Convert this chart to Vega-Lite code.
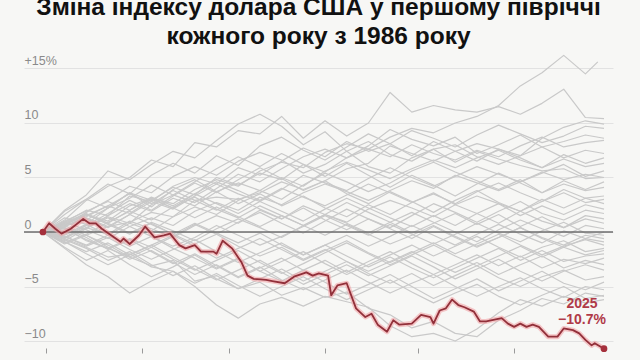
{
"$schema": "https://vega.github.io/schema/vega-lite/v6.json",
"width": 589, "height": 302,
"autosize": {"type": "none"},
"padding": {"left": 24, "top": 52, "right": 27, "bottom": 6},
"background": "#f7f7f5",
"config": {"view": {"stroke": null}},
"title": {"text": ["Зміна індексу долара США у першому півріччі", "кожного року з 1986 року"], "font": "Liberation Sans", "fontSize": 24.5, "fontWeight": "bold", "color": "#111111", "anchor": "middle", "lineHeight": 29, "offset": 3},
"datasets": {
"hist": [
{"yr":1986,"d":0,"v":0},{"yr":1986,"d":7,"v":-0.6},{"yr":1986,"d":14,"v":-1.4},{"yr":1986,"d":21,"v":-2.3},{"yr":1986,"d":28,"v":-2.0},{"yr":1986,"d":35,"v":-3.2},{"yr":1986,"d":42,"v":-3.6},{"yr":1986,"d":49,"v":-5.0},{"yr":1986,"d":56,"v":-6.7},{"yr":1986,"d":63,"v":-7.9},{"yr":1986,"d":70,"v":-6.6},{"yr":1986,"d":77,"v":-6.0},{"yr":1986,"d":84,"v":-6.8},{"yr":1986,"d":91,"v":-5.9},{"yr":1986,"d":98,"v":-6.4},{"yr":1986,"d":105,"v":-6.9},{"yr":1986,"d":112,"v":-8.6},{"yr":1986,"d":119,"v":-9.6},{"yr":1986,"d":126,"v":-9.3},{"yr":1986,"d":133,"v":-10.0},{"yr":1986,"d":140,"v":-8.9},{"yr":1986,"d":147,"v":-7.4},{"yr":1986,"d":154,"v":-6.2},{"yr":1986,"d":161,"v":-6.8},{"yr":1986,"d":168,"v":-5.9},{"yr":1986,"d":175,"v":-6.5},{"yr":1986,"d":181,"v":-6.2},
{"yr":1987,"d":0,"v":0},{"yr":1987,"d":7,"v":0.4},{"yr":1987,"d":14,"v":-0.8},{"yr":1987,"d":21,"v":-1.5},{"yr":1987,"d":28,"v":-2.3},{"yr":1987,"d":35,"v":-3.1},{"yr":1987,"d":42,"v":-2.6},{"yr":1987,"d":49,"v":-4.5},{"yr":1987,"d":56,"v":-4.0},{"yr":1987,"d":63,"v":-5.2},{"yr":1987,"d":70,"v":-4.6},{"yr":1987,"d":77,"v":-5.8},{"yr":1987,"d":84,"v":-5.1},{"yr":1987,"d":91,"v":-6.0},{"yr":1987,"d":98,"v":-5.5},{"yr":1987,"d":105,"v":-7.0},{"yr":1987,"d":112,"v":-7.6},{"yr":1987,"d":119,"v":-8.8},{"yr":1987,"d":126,"v":-8.2},{"yr":1987,"d":133,"v":-9.3},{"yr":1987,"d":140,"v":-9.6},{"yr":1987,"d":147,"v":-8.1},{"yr":1987,"d":154,"v":-7.2},{"yr":1987,"d":161,"v":-6.1},{"yr":1987,"d":168,"v":-6.6},{"yr":1987,"d":175,"v":-5.6},{"yr":1987,"d":181,"v":-5.9},
{"yr":1988,"d":0,"v":0},{"yr":1988,"d":7,"v":-0.5},{"yr":1988,"d":14,"v":0.6},{"yr":1988,"d":21,"v":1.4},{"yr":1988,"d":28,"v":0.8},{"yr":1988,"d":35,"v":2.5},{"yr":1988,"d":42,"v":3.4},{"yr":1988,"d":49,"v":2.7},{"yr":1988,"d":56,"v":4.0},{"yr":1988,"d":63,"v":5.3},{"yr":1988,"d":70,"v":4.6},{"yr":1988,"d":77,"v":5.8},{"yr":1988,"d":84,"v":6.9},{"yr":1988,"d":91,"v":7.6},{"yr":1988,"d":98,"v":6.8},{"yr":1988,"d":105,"v":7.9},{"yr":1988,"d":112,"v":9.4},{"yr":1988,"d":119,"v":8.5},{"yr":1988,"d":126,"v":7.9},{"yr":1988,"d":133,"v":8.7},{"yr":1988,"d":140,"v":7.2},{"yr":1988,"d":147,"v":8.0},{"yr":1988,"d":154,"v":8.9},{"yr":1988,"d":161,"v":7.8},{"yr":1988,"d":168,"v":8.3},{"yr":1988,"d":175,"v":8.9},{"yr":1988,"d":181,"v":8.6},
{"yr":1989,"d":0,"v":0},{"yr":1989,"d":7,"v":0.8},{"yr":1989,"d":14,"v":1.6},{"yr":1989,"d":21,"v":1.0},{"yr":1989,"d":28,"v":2.4},{"yr":1989,"d":35,"v":3.1},{"yr":1989,"d":42,"v":2.6},{"yr":1989,"d":49,"v":3.9},{"yr":1989,"d":56,"v":4.8},{"yr":1989,"d":63,"v":4.2},{"yr":1989,"d":70,"v":5.6},{"yr":1989,"d":77,"v":6.4},{"yr":1989,"d":84,"v":5.9},{"yr":1989,"d":91,"v":7.3},{"yr":1989,"d":98,"v":8.1},{"yr":1989,"d":105,"v":7.6},{"yr":1989,"d":112,"v":8.7},{"yr":1989,"d":119,"v":9.5},{"yr":1989,"d":126,"v":9.1},{"yr":1989,"d":133,"v":10.0},{"yr":1989,"d":140,"v":10.6},{"yr":1989,"d":147,"v":11.6},{"yr":1989,"d":154,"v":13.4},{"yr":1989,"d":161,"v":14.6},{"yr":1989,"d":168,"v":16.2},{"yr":1989,"d":175,"v":14.5},{"yr":1989,"d":179,"v":15.6},
{"yr":1990,"d":0,"v":0},{"yr":1990,"d":7,"v":0.8},{"yr":1990,"d":14,"v":1.6},{"yr":1990,"d":21,"v":0.7},{"yr":1990,"d":28,"v":-0.2},{"yr":1990,"d":35,"v":0.9},{"yr":1990,"d":42,"v":0.1},{"yr":1990,"d":49,"v":-0.8},{"yr":1990,"d":56,"v":0.3},{"yr":1990,"d":63,"v":1.2},{"yr":1990,"d":70,"v":0.4},{"yr":1990,"d":77,"v":-0.5},{"yr":1990,"d":84,"v":0.6},{"yr":1990,"d":91,"v":1.6},{"yr":1990,"d":98,"v":0.8},{"yr":1990,"d":105,"v":-0.1},{"yr":1990,"d":112,"v":0.9},{"yr":1990,"d":119,"v":1.8},{"yr":1990,"d":126,"v":0.9},{"yr":1990,"d":133,"v":0.0},{"yr":1990,"d":140,"v":-0.9},{"yr":1990,"d":147,"v":0.2},{"yr":1990,"d":154,"v":1.1},{"yr":1990,"d":161,"v":0.3},{"yr":1990,"d":168,"v":-0.4},{"yr":1990,"d":175,"v":0.6},{"yr":1990,"d":181,"v":0.3},
{"yr":1991,"d":0,"v":0},{"yr":1991,"d":7,"v":1.1},{"yr":1991,"d":14,"v":2.9},{"yr":1991,"d":21,"v":4.2},{"yr":1991,"d":28,"v":5.0},{"yr":1991,"d":35,"v":6.6},{"yr":1991,"d":42,"v":6.0},{"yr":1991,"d":49,"v":8.2},{"yr":1991,"d":56,"v":7.8},{"yr":1991,"d":63,"v":9.3},{"yr":1991,"d":70,"v":9.0},{"yr":1991,"d":77,"v":10.6},{"yr":1991,"d":84,"v":8.6},{"yr":1991,"d":91,"v":10.2},{"yr":1991,"d":98,"v":8.8},{"yr":1991,"d":105,"v":10.0},{"yr":1991,"d":112,"v":12.8},{"yr":1991,"d":119,"v":11.0},{"yr":1991,"d":126,"v":11.6},{"yr":1991,"d":133,"v":11.2},{"yr":1991,"d":140,"v":11.0},{"yr":1991,"d":147,"v":11.5},{"yr":1991,"d":154,"v":10.8},{"yr":1991,"d":161,"v":11.8},{"yr":1991,"d":168,"v":13.1},{"yr":1991,"d":175,"v":10.5},{"yr":1991,"d":181,"v":10.4},
{"yr":1992,"d":0,"v":0},{"yr":1992,"d":7,"v":0.4},{"yr":1992,"d":14,"v":-0.5},{"yr":1992,"d":21,"v":-1.6},{"yr":1992,"d":28,"v":-0.7},{"yr":1992,"d":35,"v":-1.8},{"yr":1992,"d":42,"v":-2.9},{"yr":1992,"d":49,"v":-2.0},{"yr":1992,"d":56,"v":-3.1},{"yr":1992,"d":63,"v":-4.2},{"yr":1992,"d":70,"v":-3.3},{"yr":1992,"d":77,"v":-2.4},{"yr":1992,"d":84,"v":-3.5},{"yr":1992,"d":91,"v":-4.6},{"yr":1992,"d":98,"v":-5.7},{"yr":1992,"d":105,"v":-4.8},{"yr":1992,"d":112,"v":-3.9},{"yr":1992,"d":119,"v":-5.0},{"yr":1992,"d":126,"v":-6.1},{"yr":1992,"d":133,"v":-5.2},{"yr":1992,"d":140,"v":-4.3},{"yr":1992,"d":147,"v":-5.4},{"yr":1992,"d":154,"v":-4.5},{"yr":1992,"d":161,"v":-3.6},{"yr":1992,"d":168,"v":-4.7},{"yr":1992,"d":175,"v":-5.3},{"yr":1992,"d":181,"v":-4.6},
{"yr":1993,"d":0,"v":0},{"yr":1993,"d":7,"v":0.5},{"yr":1993,"d":14,"v":1.2},{"yr":1993,"d":21,"v":0.4},{"yr":1993,"d":28,"v":1.6},{"yr":1993,"d":35,"v":2.8},{"yr":1993,"d":42,"v":2.1},{"yr":1993,"d":49,"v":3.3},{"yr":1993,"d":56,"v":4.4},{"yr":1993,"d":63,"v":3.5},{"yr":1993,"d":70,"v":2.8},{"yr":1993,"d":77,"v":3.9},{"yr":1993,"d":84,"v":5.2},{"yr":1993,"d":91,"v":4.5},{"yr":1993,"d":98,"v":3.8},{"yr":1993,"d":105,"v":4.9},{"yr":1993,"d":112,"v":5.9},{"yr":1993,"d":119,"v":5.0},{"yr":1993,"d":126,"v":4.2},{"yr":1993,"d":133,"v":5.1},{"yr":1993,"d":140,"v":6.0},{"yr":1993,"d":147,"v":5.3},{"yr":1993,"d":154,"v":4.6},{"yr":1993,"d":161,"v":5.4},{"yr":1993,"d":168,"v":6.2},{"yr":1993,"d":175,"v":5.1},{"yr":1993,"d":181,"v":5.6},
{"yr":1994,"d":0,"v":0},{"yr":1994,"d":7,"v":-1.1},{"yr":1994,"d":14,"v":-0.3},{"yr":1994,"d":21,"v":-1.4},{"yr":1994,"d":28,"v":-2.5},{"yr":1994,"d":35,"v":-1.7},{"yr":1994,"d":42,"v":-2.8},{"yr":1994,"d":49,"v":-3.9},{"yr":1994,"d":56,"v":-3.0},{"yr":1994,"d":63,"v":-4.1},{"yr":1994,"d":70,"v":-3.2},{"yr":1994,"d":77,"v":-4.4},{"yr":1994,"d":84,"v":-5.3},{"yr":1994,"d":91,"v":-4.4},{"yr":1994,"d":98,"v":-3.5},{"yr":1994,"d":105,"v":-4.6},{"yr":1994,"d":112,"v":-5.6},{"yr":1994,"d":119,"v":-4.7},{"yr":1994,"d":126,"v":-3.9},{"yr":1994,"d":133,"v":-5.0},{"yr":1994,"d":140,"v":-5.9},{"yr":1994,"d":147,"v":-5.0},{"yr":1994,"d":154,"v":-4.2},{"yr":1994,"d":161,"v":-5.2},{"yr":1994,"d":168,"v":-6.0},{"yr":1994,"d":175,"v":-5.0},{"yr":1994,"d":181,"v":-5.3},
{"yr":1995,"d":0,"v":0},{"yr":1995,"d":7,"v":-1.5},{"yr":1995,"d":14,"v":-3.0},{"yr":1995,"d":21,"v":-4.1},{"yr":1995,"d":28,"v":-5.6},{"yr":1995,"d":35,"v":-4.5},{"yr":1995,"d":42,"v":-3.6},{"yr":1995,"d":49,"v":-4.7},{"yr":1995,"d":56,"v":-3.8},{"yr":1995,"d":63,"v":-4.9},{"yr":1995,"d":70,"v":-5.9},{"yr":1995,"d":77,"v":-5.0},{"yr":1995,"d":84,"v":-4.1},{"yr":1995,"d":91,"v":-5.2},{"yr":1995,"d":98,"v":-6.2},{"yr":1995,"d":105,"v":-5.3},{"yr":1995,"d":112,"v":-4.4},{"yr":1995,"d":119,"v":-5.5},{"yr":1995,"d":126,"v":-6.5},{"yr":1995,"d":133,"v":-5.6},{"yr":1995,"d":140,"v":-4.8},{"yr":1995,"d":147,"v":-5.9},{"yr":1995,"d":154,"v":-6.7},{"yr":1995,"d":161,"v":-5.8},{"yr":1995,"d":168,"v":-5.0},{"yr":1995,"d":175,"v":-6.1},{"yr":1995,"d":181,"v":-5.8},
{"yr":1996,"d":0,"v":0},{"yr":1996,"d":7,"v":-0.4},{"yr":1996,"d":14,"v":-1.2},{"yr":1996,"d":21,"v":-0.3},{"yr":1996,"d":28,"v":0.8},{"yr":1996,"d":35,"v":0.1},{"yr":1996,"d":42,"v":1.4},{"yr":1996,"d":49,"v":2.3},{"yr":1996,"d":56,"v":1.6},{"yr":1996,"d":63,"v":2.9},{"yr":1996,"d":70,"v":3.8},{"yr":1996,"d":77,"v":3.0},{"yr":1996,"d":84,"v":4.3},{"yr":1996,"d":91,"v":5.4},{"yr":1996,"d":98,"v":4.6},{"yr":1996,"d":105,"v":3.7},{"yr":1996,"d":112,"v":4.5},{"yr":1996,"d":119,"v":5.6},{"yr":1996,"d":126,"v":6.4},{"yr":1996,"d":133,"v":5.5},{"yr":1996,"d":140,"v":4.7},{"yr":1996,"d":147,"v":3.9},{"yr":1996,"d":154,"v":4.8},{"yr":1996,"d":161,"v":3.6},{"yr":1996,"d":168,"v":4.4},{"yr":1996,"d":175,"v":3.8},{"yr":1996,"d":181,"v":4.1},
{"yr":1997,"d":0,"v":0},{"yr":1997,"d":7,"v":0.9},{"yr":1997,"d":14,"v":2.0},{"yr":1997,"d":21,"v":1.5},{"yr":1997,"d":28,"v":3.3},{"yr":1997,"d":35,"v":2.8},{"yr":1997,"d":42,"v":4.2},{"yr":1997,"d":49,"v":5.0},{"yr":1997,"d":56,"v":4.4},{"yr":1997,"d":63,"v":5.9},{"yr":1997,"d":70,"v":5.2},{"yr":1997,"d":77,"v":6.5},{"yr":1997,"d":84,"v":7.7},{"yr":1997,"d":91,"v":6.9},{"yr":1997,"d":98,"v":8.3},{"yr":1997,"d":105,"v":7.4},{"yr":1997,"d":112,"v":8.1},{"yr":1997,"d":119,"v":9.3},{"yr":1997,"d":126,"v":8.6},{"yr":1997,"d":133,"v":7.8},{"yr":1997,"d":140,"v":8.9},{"yr":1997,"d":147,"v":9.8},{"yr":1997,"d":154,"v":9.0},{"yr":1997,"d":161,"v":8.2},{"yr":1997,"d":168,"v":8.8},{"yr":1997,"d":175,"v":9.7},{"yr":1997,"d":181,"v":9.5},
{"yr":1998,"d":0,"v":0},{"yr":1998,"d":7,"v":0.7},{"yr":1998,"d":14,"v":1.5},{"yr":1998,"d":21,"v":2.4},{"yr":1998,"d":28,"v":1.7},{"yr":1998,"d":35,"v":3.0},{"yr":1998,"d":42,"v":2.2},{"yr":1998,"d":49,"v":3.5},{"yr":1998,"d":56,"v":4.6},{"yr":1998,"d":63,"v":3.8},{"yr":1998,"d":70,"v":2.9},{"yr":1998,"d":77,"v":4.0},{"yr":1998,"d":84,"v":3.2},{"yr":1998,"d":91,"v":2.4},{"yr":1998,"d":98,"v":3.4},{"yr":1998,"d":105,"v":4.4},{"yr":1998,"d":112,"v":3.6},{"yr":1998,"d":119,"v":2.7},{"yr":1998,"d":126,"v":3.5},{"yr":1998,"d":133,"v":2.6},{"yr":1998,"d":140,"v":3.7},{"yr":1998,"d":147,"v":4.5},{"yr":1998,"d":154,"v":3.6},{"yr":1998,"d":161,"v":2.8},{"yr":1998,"d":168,"v":3.9},{"yr":1998,"d":175,"v":3.1},{"yr":1998,"d":181,"v":3.3},
{"yr":1999,"d":0,"v":0},{"yr":1999,"d":7,"v":1.3},{"yr":1999,"d":14,"v":0.7},{"yr":1999,"d":21,"v":2.2},{"yr":1999,"d":28,"v":3.6},{"yr":1999,"d":35,"v":2.9},{"yr":1999,"d":42,"v":4.1},{"yr":1999,"d":49,"v":3.4},{"yr":1999,"d":56,"v":5.0},{"yr":1999,"d":63,"v":4.3},{"yr":1999,"d":70,"v":5.4},{"yr":1999,"d":77,"v":4.8},{"yr":1999,"d":84,"v":6.2},{"yr":1999,"d":91,"v":5.5},{"yr":1999,"d":98,"v":6.8},{"yr":1999,"d":105,"v":7.6},{"yr":1999,"d":112,"v":6.9},{"yr":1999,"d":119,"v":8.0},{"yr":1999,"d":126,"v":7.2},{"yr":1999,"d":133,"v":6.6},{"yr":1999,"d":140,"v":7.5},{"yr":1999,"d":147,"v":6.9},{"yr":1999,"d":154,"v":7.9},{"yr":1999,"d":161,"v":8.7},{"yr":1999,"d":168,"v":7.8},{"yr":1999,"d":175,"v":8.2},{"yr":1999,"d":181,"v":8.4},
{"yr":2000,"d":0,"v":0},{"yr":2000,"d":7,"v":-1.0},{"yr":2000,"d":14,"v":-0.2},{"yr":2000,"d":21,"v":0.9},{"yr":2000,"d":28,"v":1.9},{"yr":2000,"d":35,"v":1.1},{"yr":2000,"d":42,"v":2.3},{"yr":2000,"d":49,"v":3.2},{"yr":2000,"d":56,"v":2.1},{"yr":2000,"d":63,"v":1.3},{"yr":2000,"d":70,"v":2.4},{"yr":2000,"d":77,"v":1.5},{"yr":2000,"d":84,"v":0.6},{"yr":2000,"d":91,"v":1.6},{"yr":2000,"d":98,"v":2.7},{"yr":2000,"d":105,"v":1.8},{"yr":2000,"d":112,"v":0.9},{"yr":2000,"d":119,"v":-0.1},{"yr":2000,"d":126,"v":0.8},{"yr":2000,"d":133,"v":1.7},{"yr":2000,"d":140,"v":0.7},{"yr":2000,"d":147,"v":1.6},{"yr":2000,"d":154,"v":0.5},{"yr":2000,"d":161,"v":1.4},{"yr":2000,"d":168,"v":0.4},{"yr":2000,"d":175,"v":1.2},{"yr":2000,"d":181,"v":0.8},
{"yr":2001,"d":0,"v":0},{"yr":2001,"d":7,"v":0.4},{"yr":2001,"d":14,"v":-0.3},{"yr":2001,"d":21,"v":0.5},{"yr":2001,"d":28,"v":0.9},{"yr":2001,"d":35,"v":1.8},{"yr":2001,"d":42,"v":1.4},{"yr":2001,"d":49,"v":2.9},{"yr":2001,"d":56,"v":3.2},{"yr":2001,"d":63,"v":3.0},{"yr":2001,"d":70,"v":3.6},{"yr":2001,"d":77,"v":4.6},{"yr":2001,"d":84,"v":3.9},{"yr":2001,"d":91,"v":4.7},{"yr":2001,"d":98,"v":5.8},{"yr":2001,"d":105,"v":6.3},{"yr":2001,"d":112,"v":7.9},{"yr":2001,"d":119,"v":7.2},{"yr":2001,"d":126,"v":6.5},{"yr":2001,"d":133,"v":7.4},{"yr":2001,"d":140,"v":8.1},{"yr":2001,"d":147,"v":7.6},{"yr":2001,"d":154,"v":7.0},{"yr":2001,"d":161,"v":8.6},{"yr":2001,"d":168,"v":9.6},{"yr":2001,"d":175,"v":10.2},{"yr":2001,"d":181,"v":9.9},
{"yr":2002,"d":0,"v":0},{"yr":2002,"d":7,"v":-0.9},{"yr":2002,"d":14,"v":-2.0},{"yr":2002,"d":21,"v":-3.0},{"yr":2002,"d":28,"v":-2.1},{"yr":2002,"d":35,"v":-1.2},{"yr":2002,"d":42,"v":-2.3},{"yr":2002,"d":49,"v":-3.4},{"yr":2002,"d":56,"v":-4.4},{"yr":2002,"d":63,"v":-3.5},{"yr":2002,"d":70,"v":-2.6},{"yr":2002,"d":77,"v":-3.7},{"yr":2002,"d":84,"v":-4.8},{"yr":2002,"d":91,"v":-3.9},{"yr":2002,"d":98,"v":-3.0},{"yr":2002,"d":105,"v":-4.0},{"yr":2002,"d":112,"v":-3.1},{"yr":2002,"d":119,"v":-2.2},{"yr":2002,"d":126,"v":-3.2},{"yr":2002,"d":133,"v":-4.3},{"yr":2002,"d":140,"v":-3.4},{"yr":2002,"d":147,"v":-2.5},{"yr":2002,"d":154,"v":-3.6},{"yr":2002,"d":161,"v":-4.5},{"yr":2002,"d":168,"v":-3.6},{"yr":2002,"d":175,"v":-3.0},{"yr":2002,"d":181,"v":-3.5},
{"yr":2003,"d":0,"v":0},{"yr":2003,"d":7,"v":-1.4},{"yr":2003,"d":14,"v":-2.6},{"yr":2003,"d":21,"v":-1.7},{"yr":2003,"d":28,"v":-3.0},{"yr":2003,"d":35,"v":-4.1},{"yr":2003,"d":42,"v":-3.2},{"yr":2003,"d":49,"v":-2.1},{"yr":2003,"d":56,"v":-3.3},{"yr":2003,"d":63,"v":-2.4},{"yr":2003,"d":70,"v":-3.6},{"yr":2003,"d":77,"v":-4.5},{"yr":2003,"d":84,"v":-3.5},{"yr":2003,"d":91,"v":-2.6},{"yr":2003,"d":98,"v":-3.7},{"yr":2003,"d":105,"v":-2.7},{"yr":2003,"d":112,"v":-1.8},{"yr":2003,"d":119,"v":-2.9},{"yr":2003,"d":126,"v":-3.9},{"yr":2003,"d":133,"v":-3.0},{"yr":2003,"d":140,"v":-2.1},{"yr":2003,"d":147,"v":-3.1},{"yr":2003,"d":154,"v":-2.2},{"yr":2003,"d":161,"v":-3.3},{"yr":2003,"d":168,"v":-2.5},{"yr":2003,"d":175,"v":-2.9},{"yr":2003,"d":181,"v":-2.4},
{"yr":2004,"d":0,"v":0},{"yr":2004,"d":7,"v":-0.6},{"yr":2004,"d":14,"v":0.4},{"yr":2004,"d":21,"v":-0.2},{"yr":2004,"d":28,"v":1.0},{"yr":2004,"d":35,"v":0.3},{"yr":2004,"d":42,"v":-0.5},{"yr":2004,"d":49,"v":0.6},{"yr":2004,"d":56,"v":1.5},{"yr":2004,"d":63,"v":0.8},{"yr":2004,"d":70,"v":2.0},{"yr":2004,"d":77,"v":1.2},{"yr":2004,"d":84,"v":2.4},{"yr":2004,"d":91,"v":1.6},{"yr":2004,"d":98,"v":0.9},{"yr":2004,"d":105,"v":2.1},{"yr":2004,"d":112,"v":2.9},{"yr":2004,"d":119,"v":2.2},{"yr":2004,"d":126,"v":1.4},{"yr":2004,"d":133,"v":2.5},{"yr":2004,"d":140,"v":3.3},{"yr":2004,"d":147,"v":2.6},{"yr":2004,"d":154,"v":1.9},{"yr":2004,"d":161,"v":2.8},{"yr":2004,"d":168,"v":3.6},{"yr":2004,"d":175,"v":2.7},{"yr":2004,"d":181,"v":3.0},
{"yr":2005,"d":0,"v":0},{"yr":2005,"d":7,"v":0.6},{"yr":2005,"d":14,"v":1.8},{"yr":2005,"d":21,"v":2.9},{"yr":2005,"d":28,"v":4.2},{"yr":2005,"d":35,"v":3.6},{"yr":2005,"d":42,"v":5.1},{"yr":2005,"d":49,"v":6.0},{"yr":2005,"d":56,"v":5.2},{"yr":2005,"d":63,"v":6.5},{"yr":2005,"d":70,"v":7.3},{"yr":2005,"d":77,"v":6.6},{"yr":2005,"d":84,"v":5.4},{"yr":2005,"d":91,"v":6.2},{"yr":2005,"d":98,"v":7.4},{"yr":2005,"d":105,"v":8.3},{"yr":2005,"d":112,"v":7.1},{"yr":2005,"d":119,"v":6.5},{"yr":2005,"d":126,"v":7.6},{"yr":2005,"d":133,"v":8.0},{"yr":2005,"d":140,"v":6.9},{"yr":2005,"d":147,"v":6.2},{"yr":2005,"d":154,"v":7.0},{"yr":2005,"d":161,"v":7.8},{"yr":2005,"d":168,"v":6.8},{"yr":2005,"d":175,"v":7.5},{"yr":2005,"d":181,"v":7.2},
{"yr":2006,"d":0,"v":0},{"yr":2006,"d":7,"v":-0.7},{"yr":2006,"d":14,"v":-1.5},{"yr":2006,"d":21,"v":-2.6},{"yr":2006,"d":28,"v":-1.8},{"yr":2006,"d":35,"v":-3.0},{"yr":2006,"d":42,"v":-4.0},{"yr":2006,"d":49,"v":-3.1},{"yr":2006,"d":56,"v":-4.3},{"yr":2006,"d":63,"v":-5.2},{"yr":2006,"d":70,"v":-4.3},{"yr":2006,"d":77,"v":-3.4},{"yr":2006,"d":84,"v":-4.5},{"yr":2006,"d":91,"v":-3.6},{"yr":2006,"d":98,"v":-2.7},{"yr":2006,"d":105,"v":-3.8},{"yr":2006,"d":112,"v":-4.7},{"yr":2006,"d":119,"v":-3.8},{"yr":2006,"d":126,"v":-4.9},{"yr":2006,"d":133,"v":-4.0},{"yr":2006,"d":140,"v":-3.1},{"yr":2006,"d":147,"v":-4.2},{"yr":2006,"d":154,"v":-5.0},{"yr":2006,"d":161,"v":-4.1},{"yr":2006,"d":168,"v":-3.5},{"yr":2006,"d":175,"v":-4.4},{"yr":2006,"d":181,"v":-4.1},
{"yr":2007,"d":0,"v":0},{"yr":2007,"d":7,"v":-0.9},{"yr":2007,"d":14,"v":-1.8},{"yr":2007,"d":21,"v":-1.0},{"yr":2007,"d":28,"v":-2.1},{"yr":2007,"d":35,"v":-1.2},{"yr":2007,"d":42,"v":-0.3},{"yr":2007,"d":49,"v":-1.3},{"yr":2007,"d":56,"v":-2.4},{"yr":2007,"d":63,"v":-1.5},{"yr":2007,"d":70,"v":-0.6},{"yr":2007,"d":77,"v":-1.6},{"yr":2007,"d":84,"v":-2.6},{"yr":2007,"d":91,"v":-1.7},{"yr":2007,"d":98,"v":-0.8},{"yr":2007,"d":105,"v":-1.9},{"yr":2007,"d":112,"v":-2.8},{"yr":2007,"d":119,"v":-1.9},{"yr":2007,"d":126,"v":-1.0},{"yr":2007,"d":133,"v":-2.0},{"yr":2007,"d":140,"v":-1.1},{"yr":2007,"d":147,"v":-0.2},{"yr":2007,"d":154,"v":-1.2},{"yr":2007,"d":161,"v":-2.1},{"yr":2007,"d":168,"v":-1.3},{"yr":2007,"d":175,"v":-0.7},{"yr":2007,"d":181,"v":-1.2},
{"yr":2008,"d":0,"v":0},{"yr":2008,"d":7,"v":0.9},{"yr":2008,"d":14,"v":1.7},{"yr":2008,"d":21,"v":0.8},{"yr":2008,"d":28,"v":-0.1},{"yr":2008,"d":35,"v":0.8},{"yr":2008,"d":42,"v":-0.2},{"yr":2008,"d":49,"v":-1.1},{"yr":2008,"d":56,"v":-0.2},{"yr":2008,"d":63,"v":-1.3},{"yr":2008,"d":70,"v":-2.2},{"yr":2008,"d":77,"v":-1.4},{"yr":2008,"d":84,"v":-2.5},{"yr":2008,"d":91,"v":-1.6},{"yr":2008,"d":98,"v":-2.7},{"yr":2008,"d":105,"v":-3.6},{"yr":2008,"d":112,"v":-2.7},{"yr":2008,"d":119,"v":-1.8},{"yr":2008,"d":126,"v":-2.8},{"yr":2008,"d":133,"v":-3.7},{"yr":2008,"d":140,"v":-2.8},{"yr":2008,"d":147,"v":-3.9},{"yr":2008,"d":154,"v":-3.0},{"yr":2008,"d":161,"v":-2.2},{"yr":2008,"d":168,"v":-3.3},{"yr":2008,"d":175,"v":-2.6},{"yr":2008,"d":181,"v":-3.0},
{"yr":2009,"d":0,"v":0},{"yr":2009,"d":7,"v":-0.5},{"yr":2009,"d":14,"v":0.4},{"yr":2009,"d":21,"v":1.3},{"yr":2009,"d":28,"v":0.5},{"yr":2009,"d":35,"v":-0.4},{"yr":2009,"d":42,"v":-1.3},{"yr":2009,"d":49,"v":-0.5},{"yr":2009,"d":56,"v":0.6},{"yr":2009,"d":63,"v":-0.3},{"yr":2009,"d":70,"v":-1.2},{"yr":2009,"d":77,"v":-0.4},{"yr":2009,"d":84,"v":0.5},{"yr":2009,"d":91,"v":1.5},{"yr":2009,"d":98,"v":0.6},{"yr":2009,"d":105,"v":-0.3},{"yr":2009,"d":112,"v":0.7},{"yr":2009,"d":119,"v":-0.2},{"yr":2009,"d":126,"v":-1.1},{"yr":2009,"d":133,"v":-0.2},{"yr":2009,"d":140,"v":0.8},{"yr":2009,"d":147,"v":-0.1},{"yr":2009,"d":154,"v":-0.9},{"yr":2009,"d":161,"v":0.1},{"yr":2009,"d":168,"v":0.9},{"yr":2009,"d":175,"v":-0.1},{"yr":2009,"d":181,"v":-0.3},
{"yr":2010,"d":0,"v":0},{"yr":2010,"d":7,"v":1.6},{"yr":2010,"d":14,"v":3.0},{"yr":2010,"d":21,"v":4.4},{"yr":2010,"d":28,"v":3.5},{"yr":2010,"d":35,"v":5.2},{"yr":2010,"d":42,"v":6.3},{"yr":2010,"d":49,"v":5.4},{"yr":2010,"d":56,"v":7.0},{"yr":2010,"d":63,"v":6.1},{"yr":2010,"d":70,"v":7.9},{"yr":2010,"d":77,"v":8.7},{"yr":2010,"d":84,"v":7.5},{"yr":2010,"d":91,"v":6.6},{"yr":2010,"d":98,"v":7.8},{"yr":2010,"d":105,"v":9.0},{"yr":2010,"d":112,"v":8.1},{"yr":2010,"d":119,"v":7.0},{"yr":2010,"d":126,"v":8.3},{"yr":2010,"d":133,"v":7.4},{"yr":2010,"d":140,"v":6.5},{"yr":2010,"d":147,"v":7.6},{"yr":2010,"d":154,"v":6.8},{"yr":2010,"d":161,"v":5.9},{"yr":2010,"d":168,"v":7.1},{"yr":2010,"d":175,"v":6.3},{"yr":2010,"d":181,"v":6.8},
{"yr":2011,"d":0,"v":0},{"yr":2011,"d":7,"v":0.6},{"yr":2011,"d":14,"v":-0.3},{"yr":2011,"d":21,"v":-1.2},{"yr":2011,"d":28,"v":-2.3},{"yr":2011,"d":35,"v":-1.4},{"yr":2011,"d":42,"v":-2.5},{"yr":2011,"d":49,"v":-3.5},{"yr":2011,"d":56,"v":-2.6},{"yr":2011,"d":63,"v":-1.7},{"yr":2011,"d":70,"v":-2.8},{"yr":2011,"d":77,"v":-3.8},{"yr":2011,"d":84,"v":-2.9},{"yr":2011,"d":91,"v":-1.9},{"yr":2011,"d":98,"v":-1.0},{"yr":2011,"d":105,"v":-2.0},{"yr":2011,"d":112,"v":-3.0},{"yr":2011,"d":119,"v":-2.1},{"yr":2011,"d":126,"v":-1.2},{"yr":2011,"d":133,"v":-2.2},{"yr":2011,"d":140,"v":-3.1},{"yr":2011,"d":147,"v":-2.2},{"yr":2011,"d":154,"v":-1.3},{"yr":2011,"d":161,"v":-2.3},{"yr":2011,"d":168,"v":-1.4},{"yr":2011,"d":175,"v":-2.1},{"yr":2011,"d":181,"v":-1.7},
{"yr":2012,"d":0,"v":0},{"yr":2012,"d":7,"v":0.3},{"yr":2012,"d":14,"v":-0.7},{"yr":2012,"d":21,"v":-1.5},{"yr":2012,"d":28,"v":-0.6},{"yr":2012,"d":35,"v":-1.4},{"yr":2012,"d":42,"v":-0.4},{"yr":2012,"d":49,"v":0.7},{"yr":2012,"d":56,"v":-0.2},{"yr":2012,"d":63,"v":0.9},{"yr":2012,"d":70,"v":1.8},{"yr":2012,"d":77,"v":0.8},{"yr":2012,"d":84,"v":-0.1},{"yr":2012,"d":91,"v":1.0},{"yr":2012,"d":98,"v":2.1},{"yr":2012,"d":105,"v":1.2},{"yr":2012,"d":112,"v":0.4},{"yr":2012,"d":119,"v":1.5},{"yr":2012,"d":126,"v":2.6},{"yr":2012,"d":133,"v":1.8},{"yr":2012,"d":140,"v":0.9},{"yr":2012,"d":147,"v":1.9},{"yr":2012,"d":154,"v":2.8},{"yr":2012,"d":161,"v":1.7},{"yr":2012,"d":168,"v":1.1},{"yr":2012,"d":175,"v":2.0},{"yr":2012,"d":181,"v":1.7},
{"yr":2013,"d":0,"v":0},{"yr":2013,"d":7,"v":0.9},{"yr":2013,"d":14,"v":0.2},{"yr":2013,"d":21,"v":-0.6},{"yr":2013,"d":28,"v":0.5},{"yr":2013,"d":35,"v":1.3},{"yr":2013,"d":42,"v":0.6},{"yr":2013,"d":49,"v":1.9},{"yr":2013,"d":56,"v":2.7},{"yr":2013,"d":63,"v":2.0},{"yr":2013,"d":70,"v":3.2},{"yr":2013,"d":77,"v":2.5},{"yr":2013,"d":84,"v":3.6},{"yr":2013,"d":91,"v":4.4},{"yr":2013,"d":98,"v":3.7},{"yr":2013,"d":105,"v":2.9},{"yr":2013,"d":112,"v":3.8},{"yr":2013,"d":119,"v":4.7},{"yr":2013,"d":126,"v":4.0},{"yr":2013,"d":133,"v":5.2},{"yr":2013,"d":140,"v":4.5},{"yr":2013,"d":147,"v":3.8},{"yr":2013,"d":154,"v":4.6},{"yr":2013,"d":161,"v":5.5},{"yr":2013,"d":168,"v":4.8},{"yr":2013,"d":175,"v":5.3},{"yr":2013,"d":181,"v":5.0},
{"yr":2014,"d":0,"v":0},{"yr":2014,"d":7,"v":1.0},{"yr":2014,"d":14,"v":1.9},{"yr":2014,"d":21,"v":2.8},{"yr":2014,"d":28,"v":2.0},{"yr":2014,"d":35,"v":3.1},{"yr":2014,"d":42,"v":2.2},{"yr":2014,"d":49,"v":1.3},{"yr":2014,"d":56,"v":2.3},{"yr":2014,"d":63,"v":1.4},{"yr":2014,"d":70,"v":0.5},{"yr":2014,"d":77,"v":1.5},{"yr":2014,"d":84,"v":0.6},{"yr":2014,"d":91,"v":-0.3},{"yr":2014,"d":98,"v":0.7},{"yr":2014,"d":105,"v":-0.2},{"yr":2014,"d":112,"v":-1.1},{"yr":2014,"d":119,"v":-0.3},{"yr":2014,"d":126,"v":0.6},{"yr":2014,"d":133,"v":-0.4},{"yr":2014,"d":140,"v":-1.3},{"yr":2014,"d":147,"v":-0.5},{"yr":2014,"d":154,"v":0.4},{"yr":2014,"d":161,"v":-0.6},{"yr":2014,"d":168,"v":-1.4},{"yr":2014,"d":175,"v":-0.6},{"yr":2014,"d":181,"v":-0.9},
{"yr":2015,"d":0,"v":0},{"yr":2015,"d":7,"v":2.0},{"yr":2015,"d":14,"v":3.4},{"yr":2015,"d":21,"v":5.6},{"yr":2015,"d":28,"v":4.8},{"yr":2015,"d":35,"v":6.2},{"yr":2015,"d":42,"v":7.4},{"yr":2015,"d":49,"v":6.8},{"yr":2015,"d":56,"v":8.4},{"yr":2015,"d":63,"v":9.9},{"yr":2015,"d":70,"v":10.8},{"yr":2015,"d":77,"v":9.7},{"yr":2015,"d":84,"v":8.0},{"yr":2015,"d":91,"v":9.2},{"yr":2015,"d":98,"v":7.4},{"yr":2015,"d":105,"v":6.0},{"yr":2015,"d":112,"v":5.4},{"yr":2015,"d":119,"v":6.8},{"yr":2015,"d":126,"v":7.6},{"yr":2015,"d":133,"v":6.4},{"yr":2015,"d":140,"v":7.4},{"yr":2015,"d":147,"v":6.7},{"yr":2015,"d":154,"v":6.1},{"yr":2015,"d":161,"v":5.6},{"yr":2015,"d":168,"v":5.8},{"yr":2015,"d":175,"v":4.9},{"yr":2015,"d":181,"v":5.0},
{"yr":2016,"d":0,"v":0},{"yr":2016,"d":7,"v":0.6},{"yr":2016,"d":14,"v":1.3},{"yr":2016,"d":21,"v":0.5},{"yr":2016,"d":28,"v":1.6},{"yr":2016,"d":35,"v":0.7},{"yr":2016,"d":42,"v":-0.2},{"yr":2016,"d":49,"v":0.8},{"yr":2016,"d":56,"v":-0.1},{"yr":2016,"d":63,"v":-1.0},{"yr":2016,"d":70,"v":-0.1},{"yr":2016,"d":77,"v":-1.2},{"yr":2016,"d":84,"v":-2.1},{"yr":2016,"d":91,"v":-1.2},{"yr":2016,"d":98,"v":-2.2},{"yr":2016,"d":105,"v":-3.2},{"yr":2016,"d":112,"v":-2.3},{"yr":2016,"d":119,"v":-3.3},{"yr":2016,"d":126,"v":-4.2},{"yr":2016,"d":133,"v":-3.3},{"yr":2016,"d":140,"v":-2.4},{"yr":2016,"d":147,"v":-1.5},{"yr":2016,"d":154,"v":-2.6},{"yr":2016,"d":161,"v":-1.7},{"yr":2016,"d":168,"v":-2.7},{"yr":2016,"d":175,"v":-2.2},{"yr":2016,"d":181,"v":-2.0},
{"yr":2017,"d":0,"v":0},{"yr":2017,"d":7,"v":-0.2},{"yr":2017,"d":14,"v":0.7},{"yr":2017,"d":21,"v":-0.3},{"yr":2017,"d":28,"v":-1.3},{"yr":2017,"d":35,"v":-0.4},{"yr":2017,"d":42,"v":-1.5},{"yr":2017,"d":49,"v":-2.4},{"yr":2017,"d":56,"v":-3.4},{"yr":2017,"d":63,"v":-2.5},{"yr":2017,"d":70,"v":-3.6},{"yr":2017,"d":77,"v":-2.7},{"yr":2017,"d":84,"v":-1.8},{"yr":2017,"d":91,"v":-2.9},{"yr":2017,"d":98,"v":-3.9},{"yr":2017,"d":105,"v":-3.0},{"yr":2017,"d":112,"v":-2.1},{"yr":2017,"d":119,"v":-1.2},{"yr":2017,"d":126,"v":-2.2},{"yr":2017,"d":133,"v":-1.3},{"yr":2017,"d":140,"v":-0.4},{"yr":2017,"d":147,"v":-1.4},{"yr":2017,"d":154,"v":-2.3},{"yr":2017,"d":161,"v":-1.4},{"yr":2017,"d":168,"v":-0.8},{"yr":2017,"d":175,"v":-1.8},{"yr":2017,"d":181,"v":-1.5},
{"yr":2018,"d":0,"v":0},{"yr":2018,"d":7,"v":1.9},{"yr":2018,"d":14,"v":3.0},{"yr":2018,"d":21,"v":2.2},{"yr":2018,"d":28,"v":3.6},{"yr":2018,"d":35,"v":2.3},{"yr":2018,"d":42,"v":3.9},{"yr":2018,"d":49,"v":4.8},{"yr":2018,"d":56,"v":3.7},{"yr":2018,"d":63,"v":2.6},{"yr":2018,"d":70,"v":3.5},{"yr":2018,"d":77,"v":2.4},{"yr":2018,"d":84,"v":3.3},{"yr":2018,"d":91,"v":2.2},{"yr":2018,"d":98,"v":1.4},{"yr":2018,"d":105,"v":2.5},{"yr":2018,"d":112,"v":1.6},{"yr":2018,"d":119,"v":2.7},{"yr":2018,"d":126,"v":3.6},{"yr":2018,"d":133,"v":2.5},{"yr":2018,"d":140,"v":1.7},{"yr":2018,"d":147,"v":2.6},{"yr":2018,"d":154,"v":1.5},{"yr":2018,"d":161,"v":2.4},{"yr":2018,"d":168,"v":1.6},{"yr":2018,"d":175,"v":2.5},{"yr":2018,"d":181,"v":2.1},
{"yr":2019,"d":0,"v":0},{"yr":2019,"d":7,"v":-0.4},{"yr":2019,"d":14,"v":-1.3},{"yr":2019,"d":21,"v":-0.5},{"yr":2019,"d":28,"v":-1.6},{"yr":2019,"d":35,"v":-2.5},{"yr":2019,"d":42,"v":-1.6},{"yr":2019,"d":49,"v":-0.7},{"yr":2019,"d":56,"v":-1.8},{"yr":2019,"d":63,"v":-2.8},{"yr":2019,"d":70,"v":-1.9},{"yr":2019,"d":77,"v":-1.0},{"yr":2019,"d":84,"v":-2.1},{"yr":2019,"d":91,"v":-1.2},{"yr":2019,"d":98,"v":-0.3},{"yr":2019,"d":105,"v":-1.3},{"yr":2019,"d":112,"v":-0.4},{"yr":2019,"d":119,"v":0.6},{"yr":2019,"d":126,"v":-0.3},{"yr":2019,"d":133,"v":-1.2},{"yr":2019,"d":140,"v":-0.2},{"yr":2019,"d":147,"v":0.7},{"yr":2019,"d":154,"v":-0.2},{"yr":2019,"d":161,"v":-1.0},{"yr":2019,"d":168,"v":0.1},{"yr":2019,"d":175,"v":-0.6},{"yr":2019,"d":181,"v":0.0},
{"yr":2020,"d":0,"v":0},{"yr":2020,"d":7,"v":0.7},{"yr":2020,"d":14,"v":1.6},{"yr":2020,"d":21,"v":0.8},{"yr":2020,"d":28,"v":2.0},{"yr":2020,"d":35,"v":3.2},{"yr":2020,"d":42,"v":2.4},{"yr":2020,"d":49,"v":3.5},{"yr":2020,"d":56,"v":2.6},{"yr":2020,"d":63,"v":1.7},{"yr":2020,"d":70,"v":2.8},{"yr":2020,"d":77,"v":1.9},{"yr":2020,"d":84,"v":1.0},{"yr":2020,"d":91,"v":2.1},{"yr":2020,"d":98,"v":3.1},{"yr":2020,"d":105,"v":2.2},{"yr":2020,"d":112,"v":1.3},{"yr":2020,"d":119,"v":0.5},{"yr":2020,"d":126,"v":1.5},{"yr":2020,"d":133,"v":0.6},{"yr":2020,"d":140,"v":1.7},{"yr":2020,"d":147,"v":0.8},{"yr":2020,"d":154,"v":1.9},{"yr":2020,"d":161,"v":1.0},{"yr":2020,"d":168,"v":0.4},{"yr":2020,"d":175,"v":1.5},{"yr":2020,"d":181,"v":1.2},
{"yr":2021,"d":0,"v":0},{"yr":2021,"d":7,"v":-0.3},{"yr":2021,"d":14,"v":0.6},{"yr":2021,"d":21,"v":1.7},{"yr":2021,"d":28,"v":2.9},{"yr":2021,"d":35,"v":2.0},{"yr":2021,"d":42,"v":3.3},{"yr":2021,"d":49,"v":4.5},{"yr":2021,"d":56,"v":3.6},{"yr":2021,"d":63,"v":4.8},{"yr":2021,"d":70,"v":5.9},{"yr":2021,"d":77,"v":4.9},{"yr":2021,"d":84,"v":3.8},{"yr":2021,"d":91,"v":4.7},{"yr":2021,"d":98,"v":3.5},{"yr":2021,"d":105,"v":2.6},{"yr":2021,"d":112,"v":3.7},{"yr":2021,"d":119,"v":2.8},{"yr":2021,"d":126,"v":1.8},{"yr":2021,"d":133,"v":2.9},{"yr":2021,"d":140,"v":3.8},{"yr":2021,"d":147,"v":2.7},{"yr":2021,"d":154,"v":1.9},{"yr":2021,"d":161,"v":3.0},{"yr":2021,"d":168,"v":2.2},{"yr":2021,"d":175,"v":3.1},{"yr":2021,"d":181,"v":2.6},
{"yr":2022,"d":0,"v":0},{"yr":2022,"d":7,"v":-0.8},{"yr":2022,"d":14,"v":0.3},{"yr":2022,"d":21,"v":1.5},{"yr":2022,"d":28,"v":2.6},{"yr":2022,"d":35,"v":1.9},{"yr":2022,"d":42,"v":3.1},{"yr":2022,"d":49,"v":2.4},{"yr":2022,"d":56,"v":3.7},{"yr":2022,"d":63,"v":4.5},{"yr":2022,"d":70,"v":3.8},{"yr":2022,"d":77,"v":5.0},{"yr":2022,"d":84,"v":4.2},{"yr":2022,"d":91,"v":5.6},{"yr":2022,"d":98,"v":6.4},{"yr":2022,"d":105,"v":5.7},{"yr":2022,"d":112,"v":4.9},{"yr":2022,"d":119,"v":5.8},{"yr":2022,"d":126,"v":6.6},{"yr":2022,"d":133,"v":5.9},{"yr":2022,"d":140,"v":6.8},{"yr":2022,"d":147,"v":7.5},{"yr":2022,"d":154,"v":6.6},{"yr":2022,"d":161,"v":5.9},{"yr":2022,"d":168,"v":6.7},{"yr":2022,"d":175,"v":6.0},{"yr":2022,"d":181,"v":6.3},
{"yr":2023,"d":0,"v":0},{"yr":2023,"d":7,"v":0.5},{"yr":2023,"d":14,"v":1.4},{"yr":2023,"d":21,"v":2.4},{"yr":2023,"d":28,"v":3.5},{"yr":2023,"d":35,"v":2.6},{"yr":2023,"d":42,"v":3.8},{"yr":2023,"d":49,"v":2.9},{"yr":2023,"d":56,"v":2.0},{"yr":2023,"d":63,"v":3.1},{"yr":2023,"d":70,"v":2.1},{"yr":2023,"d":77,"v":1.2},{"yr":2023,"d":84,"v":2.2},{"yr":2023,"d":91,"v":1.1},{"yr":2023,"d":98,"v":0.2},{"yr":2023,"d":105,"v":1.2},{"yr":2023,"d":112,"v":0.3},{"yr":2023,"d":119,"v":-0.6},{"yr":2023,"d":126,"v":0.5},{"yr":2023,"d":133,"v":-0.5},{"yr":2023,"d":140,"v":-1.4},{"yr":2023,"d":147,"v":-0.5},{"yr":2023,"d":154,"v":0.4},{"yr":2023,"d":161,"v":-0.5},{"yr":2023,"d":168,"v":-1.2},{"yr":2023,"d":175,"v":-0.3},{"yr":2023,"d":181,"v":-0.6},
{"yr":2024,"d":0,"v":0},{"yr":2024,"d":7,"v":0.2},{"yr":2024,"d":14,"v":1.1},{"yr":2024,"d":21,"v":2.2},{"yr":2024,"d":28,"v":3.1},{"yr":2024,"d":35,"v":4.3},{"yr":2024,"d":42,"v":3.4},{"yr":2024,"d":49,"v":4.6},{"yr":2024,"d":56,"v":5.8},{"yr":2024,"d":63,"v":6.9},{"yr":2024,"d":70,"v":6.0},{"yr":2024,"d":77,"v":7.2},{"yr":2024,"d":84,"v":6.2},{"yr":2024,"d":91,"v":5.1},{"yr":2024,"d":98,"v":6.3},{"yr":2024,"d":105,"v":5.2},{"yr":2024,"d":112,"v":4.1},{"yr":2024,"d":119,"v":5.2},{"yr":2024,"d":126,"v":4.3},{"yr":2024,"d":133,"v":3.3},{"yr":2024,"d":140,"v":4.4},{"yr":2024,"d":147,"v":5.4},{"yr":2024,"d":154,"v":4.5},{"yr":2024,"d":161,"v":3.6},{"yr":2024,"d":168,"v":4.7},{"yr":2024,"d":175,"v":3.9},{"yr":2024,"d":181,"v":4.6}
],
"cur": [
{"d":0,"v":0},{"d":2,"v":0.8},{"d":4,"v":0.3},{"d":6,"v":-0.15},{"d":9,"v":0.3},{"d":13,"v":1.2},{"d":15,"v":0.8},{"d":17,"v":0.8},{"d":19,"v":0.3},{"d":22,"v":-0.3},{"d":25,"v":-0.9},{"d":26,"v":-0.6},{"d":28,"v":-1.1},{"d":31,"v":-0.3},{"d":33,"v":0.5},{"d":36,"v":-0.5},{"d":39,"v":-0.3},{"d":41,"v":-0.15},{"d":44,"v":-1.2},{"d":46,"v":-1.5},{"d":49,"v":-1.2},{"d":51,"v":-1.8},{"d":55,"v":-1.8},{"d":56,"v":-2.0},{"d":58,"v":-0.8},{"d":61,"v":-1.5},{"d":64,"v":-2.75},{"d":66,"v":-4.0},{"d":68,"v":-4.3},{"d":72,"v":-4.4},{"d":74,"v":-4.5},{"d":78,"v":-4.7},{"d":81,"v":-4.1},{"d":85,"v":-3.7},{"d":87,"v":-4.0},{"d":89,"v":-3.8},{"d":92,"v":-4.0},{"d":93,"v":-5.8},{"d":95,"v":-4.9},{"d":98,"v":-4.7},{"d":101,"v":-7.0},{"d":104,"v":-7.8},{"d":106,"v":-7.5},{"d":108,"v":-8.5},{"d":111,"v":-9.15},{"d":113,"v":-8.1},{"d":115,"v":-8.5},{"d":119,"v":-8.4},{"d":122,"v":-7.6},{"d":125,"v":-7.8},{"d":126,"v":-8.4},{"d":128,"v":-7.2},{"d":130,"v":-7.0},{"d":132,"v":-6.2},{"d":134,"v":-6.7},{"d":136,"v":-6.9},{"d":139,"v":-7.3},{"d":141,"v":-8.2},{"d":143,"v":-8.2},{"d":148,"v":-7.9},{"d":150,"v":-8.4},{"d":152,"v":-8.7},{"d":154,"v":-8.4},{"d":156,"v":-8.7},{"d":158,"v":-8.5},{"d":160,"v":-8.7},{"d":163,"v":-9.6},{"d":166,"v":-9.6},{"d":168,"v":-8.85},{"d":171,"v":-9.0},{"d":173,"v":-9.3},{"d":175,"v":-9.9},{"d":177,"v":-10.4},{"d":178,"v":-10.2},{"d":181,"v":-10.7}
],
"zero": [{"v": 0}],
"lab": [{"d": 181, "v": -10.7, "t": "2025\n−10.7%"}]
},
"layer": [
{"data": {"name": "hist"},
 "mark": {"type": "line", "color": "#c9c9c9", "strokeWidth": 1.2, "strokeJoin": "round"},
 "encoding": {
  "x": {"field": "d", "type": "quantitative", "title": null,
        "scale": {"domain": [-6.1, 183.9], "nice": false, "zero": false},
        "axis": {"values": [1, 32, 60, 91, 121, 152], "domain": false, "labels": false, "grid": false, "ticks": true, "tickColor": "#9a9a9a", "tickSize": 5, "tickWidth": 1, "offset": -6}},
  "y": {"field": "v", "type": "quantitative", "title": null,
        "scale": {"domain": [-11.19, 16.51], "nice": false, "zero": false},
        "axis": {"values": [-10, -5, 0, 5, 10, 15], "domain": false, "ticks": false, "grid": true, "gridColor": "#e2e2e2", "gridWidth": 1, "labelAlign": "left", "labelBaseline": "alphabetic", "labelPadding": 0, "labelOffset": -4, "labelFont": "Liberation Sans", "labelFontSize": 12.5, "labelColor": "#8a8a8a",
                 "labelExpr": "datum.value == 15 ? '+15%' : (datum.value < 0 ? '−' + abs(datum.value) : datum.label)"}},
  "detail": {"field": "yr", "type": "nominal"}
 }},
{"data": {"name": "zero"},
 "mark": {"type": "rule", "color": "#6e6e6e", "strokeWidth": 1.5},
 "encoding": {"y": {"field": "v", "type": "quantitative", "title": null}}},
{"data": {"name": "cur"},
 "mark": {"type": "line", "color": "#f2a3a6", "strokeWidth": 5, "opacity": 0.6, "strokeJoin": "round"},
 "encoding": {"x": {"field": "d", "type": "quantitative", "title": null}, "y": {"field": "v", "type": "quantitative", "title": null}}},
{"data": {"name": "cur"},
 "mark": {"type": "line", "color": "#92303a", "strokeWidth": 1.8, "strokeJoin": "round"},
 "encoding": {"x": {"field": "d", "type": "quantitative", "title": null}, "y": {"field": "v", "type": "quantitative", "title": null}}},
{"data": {"name": "cur"},
 "transform": [{"filter": "datum.d == 0 || datum.d == 181"}],
 "mark": {"type": "circle", "color": "#a5303c", "size": 45, "opacity": 1},
 "encoding": {"x": {"field": "d", "type": "quantitative", "title": null}, "y": {"field": "v", "type": "quantitative", "title": null}}},
{"data": {"name": "lab"},
 "mark": {"type": "text", "align": "center", "baseline": "alphabetic", "dx": -22, "dy": -41, "lineBreak": "\n", "lineHeight": 16.5, "font": "Liberation Sans", "fontSize": 14, "fontWeight": "bold", "color": "#b03a48"},
 "encoding": {"x": {"field": "d", "type": "quantitative", "title": null}, "y": {"field": "v", "type": "quantitative", "title": null}, "text": {"field": "t"}}}
]
}
